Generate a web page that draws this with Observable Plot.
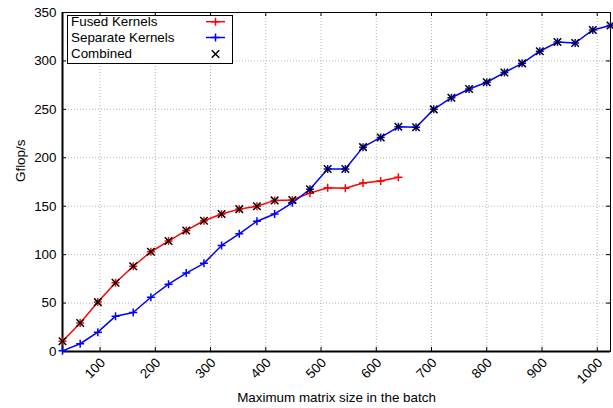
<!DOCTYPE html>
<html><head><meta charset="utf-8">
<script src="https://cdn.jsdelivr.net/npm/d3@7"></script>
<script src="https://cdn.jsdelivr.net/npm/@observablehq/plot@0.6"></script>
<style>body{margin:0;background:#fff}#chart{width:613px;height:408px}</style>
</head><body><div id="chart"></div>
<script>
const sizes = [32,64,96,128,160,192,224,256,288,320,352,384,416,448,480,512,544,576,608,640,672,704,736,768,800,832,864,896,928,960,992,1024];
const fusedSizes = [32,64,96,128,160,192,224,256,288,320,352,384,416,448,480,512,544,576,608,640];
const fused = [10.5,29.5,51,71,88,103,114,125,135,142,147,150,156,156.5,163.5,169,168.5,174,176,180];
const separate = [0.7,8,20,36.5,40.3,56,69.5,81,91,109.5,121.5,134.5,142,153.5,167.5,188.5,188.5,211,221,232,231.5,250,262,271,278,288,297.5,310,319.5,318.5,332,336.5];
const combined = [10.5,29.5,51,71,88,103,114,125,135,142,147,150,156,156.5,167.5,188.5,188.5,211,221,232,231.5,250,262,271,278,288,297.5,310,319.5,318.5,332,336.5];
const xTicks = [100,200,300,400,500,600,700,800,900,1000];
const yTicks = [0,50,100,150,200,250,300,350];
const seriesNames = ["Fused Kernels","Separate Kernels","Combined"];
const xLabel = "Maximum matrix size in the batch";
const yLabel = "Gflop/s";

const W = 613, H = 408, mL = 62, mR = 3, mT = 12, mB = 57;
const plotH = H - mT - mB, plotW = W - mL - mR;
const font = "'Liberation Sans', Arial, Helvetica, sans-serif";
const fs = 13.4;

const fusedData = fusedSizes.map((s, i) => ({size: s, v: fused[i]}));
const sepData = sizes.map((s, i) => ({size: s, v: separate[i]}));
const combData = sizes.map((s, i) => ({size: s, v: combined[i]}));

const grid = {stroke: "#b4b4b4", strokeOpacity: 1, strokeDasharray: "1,2", strokeWidth: 1};

const chart = Plot.plot({
  width: W, height: H,
  marginLeft: mL, marginRight: mR, marginTop: mT, marginBottom: mB,
  style: {fontFamily: font, fontSize: fs + "px", background: "#fff", color: "#000", overflow: "visible"},
  x: {domain: [32, 1024], axis: null},
  y: {domain: [0, 350], axis: null},
  marks: [
    Plot.gridX(xTicks, grid),
    Plot.gridY(yTicks, grid),
    Plot.tickX(xTicks, {x: d => d, insetTop: plotH - 4, stroke: "#000"}),
    Plot.tickX(xTicks, {x: d => d, insetBottom: plotH - 4, stroke: "#000"}),
    Plot.tickY(yTicks, {y: d => d, insetRight: plotW - 4, stroke: "#000"}),
    Plot.tickY(yTicks, {y: d => d, insetLeft: plotW - 4, stroke: "#000"}),
    Plot.frame({stroke: "#000", strokeWidth: 1}),
    Plot.ruleX([32], {stroke: "#000", strokeWidth: 2}),
    Plot.ruleY([0], {stroke: "#000", strokeWidth: 2}),
    Plot.text(yTicks, {y: d => d, text: d => String(d), frameAnchor: "left", textAnchor: "end", dx: -6, fontSize: fs}),
    Plot.text(xTicks, {x: d => d, text: d => String(d), frameAnchor: "bottom", rotate: -45, textAnchor: "end", lineAnchor: "bottom", dx: 6, dy: 12, fontSize: fs}),
    Plot.text([xLabel], {text: d => d, frameAnchor: "bottom", lineAnchor: "bottom", dy: 50, fontSize: fs}),
    Plot.text([yLabel], {text: d => d, frameAnchor: "left", rotate: -90, dx: -42, fontSize: fs}),
    Plot.line(fusedData, {x: "size", y: "v", stroke: "#ff0000", strokeWidth: 1.5}),
    Plot.dot(fusedData, {x: "size", y: "v", symbol: "plus", r: 2.7, stroke: "#ff0000", strokeWidth: 1.5}),
    Plot.line(sepData, {x: "size", y: "v", stroke: "#0000ff", strokeWidth: 1.5}),
    Plot.dot(sepData, {x: "size", y: "v", symbol: "plus", r: 2.7, stroke: "#0000ff", strokeWidth: 1.5}),
    Plot.dot(combData, {x: "size", y: "v", symbol: "times", r: 3.5, stroke: "#000", strokeWidth: 1.5})
  ]
});
document.getElementById("chart").appendChild(chart);

// legend
const svg = d3.select(chart);
const lg = svg.append("g").attr("font-family", font).attr("font-size", fs).attr("text-anchor", "start");
lg.append("rect").attr("x", 67.5).attr("y", 15.5).attr("width", 165).attr("height", 48)
  .attr("fill", "#fff").attr("stroke", "#000").attr("stroke-width", 1);
const rows = [
  {name: seriesNames[0], color: "#ff0000", sym: d3.symbolPlus, r: 2.7, line: true, y: 21.7, base: 26},
  {name: seriesNames[1], color: "#0000ff", sym: d3.symbolPlus, r: 2.7, line: true, y: 37.5, base: 42},
  {name: seriesNames[2], color: "#000", sym: d3.symbolTimes, r: 3.5, line: false, y: 54, base: 57.5}
];
rows.forEach(r => {
  lg.append("text").attr("x", 71).attr("y", r.base).attr("fill", "#000").attr("text-anchor", "start").text(r.name);
  if (r.line) lg.append("line").attr("x1", 206).attr("x2", 225).attr("y1", r.y).attr("y2", r.y)
    .attr("stroke", r.color).attr("stroke-width", 1.5);
  lg.append("path").attr("transform", `translate(215.5,${r.y})`)
    .attr("d", d3.symbol(r.sym, r.r * r.r * Math.PI)())
    .attr("fill", "none").attr("stroke", r.color).attr("stroke-width", 1.5);
});
</script></body></html>
